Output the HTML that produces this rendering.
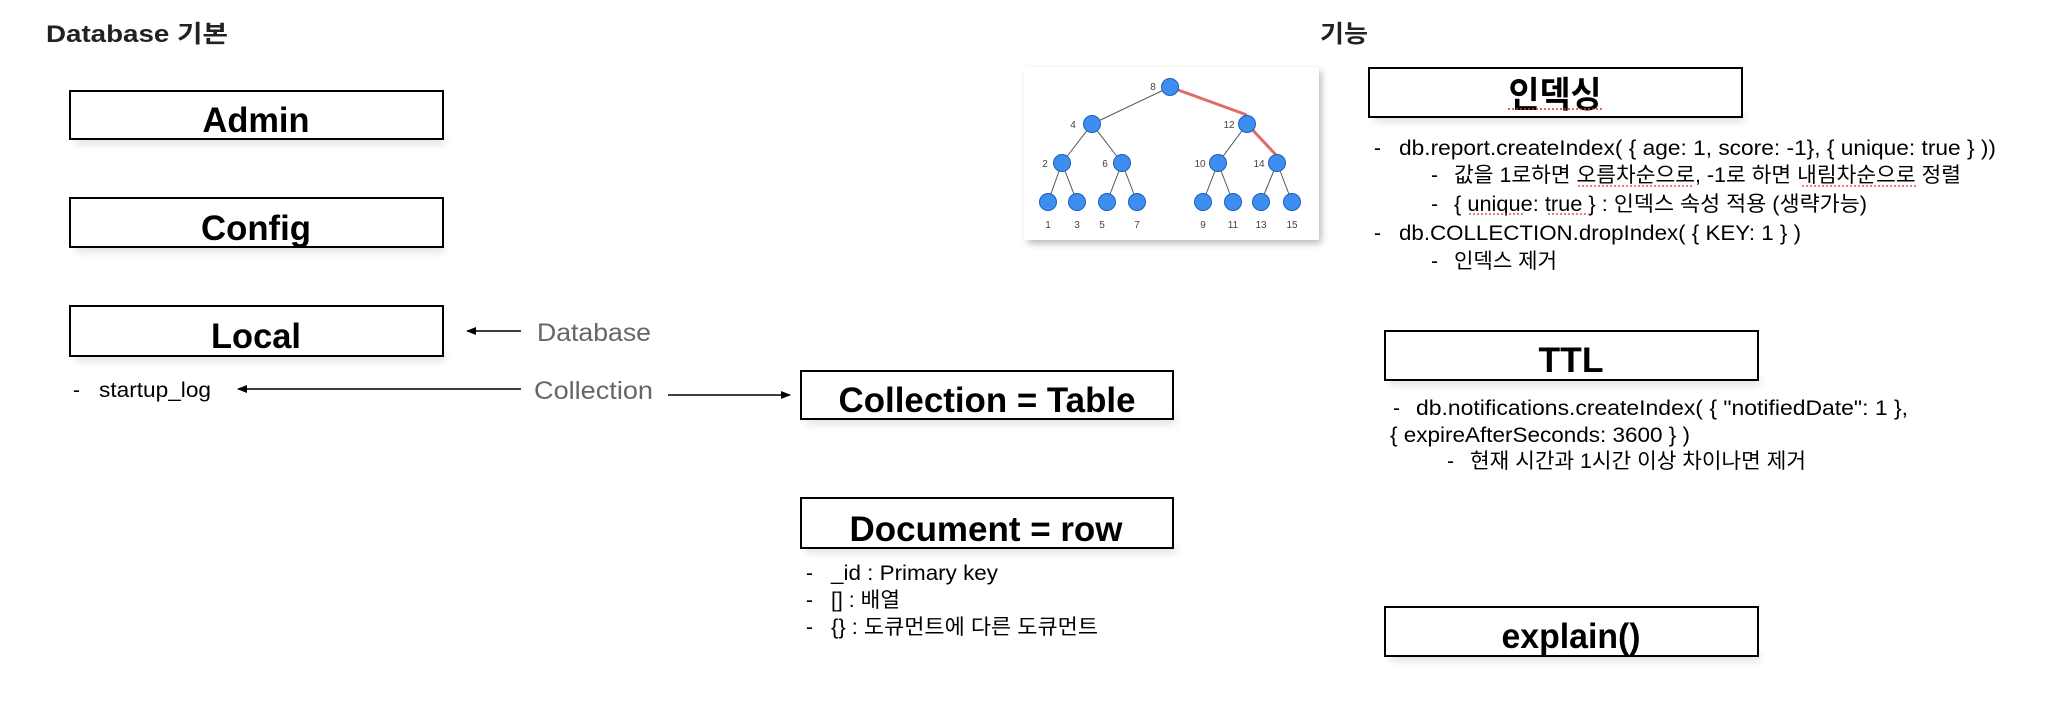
<!DOCTYPE html>
<html><head><meta charset="utf-8"><style>
html,body{margin:0;padding:0;background:#fff;width:2072px;height:728px;overflow:hidden}
svg{display:block}
text{font-family:"Liberation Sans","Noto Sans CJK KR",sans-serif}
</style></head><body>
<svg width="2072" height="728" viewBox="0 0 2072 728" xmlns="http://www.w3.org/2000/svg">
<defs>
<filter id="sh" x="-10%" y="-20%" width="120%" height="160%"><feGaussianBlur stdDeviation="4"/></filter>
<marker id="ah" markerWidth="10" markerHeight="10" refX="9" refY="5" orient="auto" markerUnits="userSpaceOnUse"><path d="M0,1 L10,5 L0,9 z" fill="#000"/></marker>
</defs>
<text x="46" y="42" font-size="24" font-weight="bold" fill="#222" textLength="182" lengthAdjust="spacingAndGlyphs">Database 기본</text>
<text x="1320" y="42" font-size="24" font-weight="bold" fill="#222" textLength="48" lengthAdjust="spacingAndGlyphs">기능</text>

<g fill="#000" opacity="0.12" filter="url(#sh)">
<rect x="75" y="136" width="370" height="8"/><rect x="75" y="244" width="370" height="8"/><rect x="75" y="353" width="370" height="8"/>
<rect x="806" y="416" width="370" height="8"/><rect x="806" y="545" width="370" height="8"/>
<rect x="1374" y="114" width="370" height="8"/><rect x="1390" y="377" width="370" height="8"/><rect x="1390" y="653" width="370" height="8"/>
</g>
<g fill="#fff" stroke="#000" stroke-width="2">
<rect x="70" y="91" width="373" height="48"/>
<rect x="70" y="198" width="373" height="49"/>
<rect x="70" y="306" width="373" height="50"/>
<rect x="801" y="371" width="372" height="48"/>
<rect x="801" y="498" width="372" height="50"/>
<rect x="1369" y="68" width="373" height="49"/>
<rect x="1385" y="331" width="373" height="49"/>
<rect x="1385" y="607" width="373" height="49"/>
</g>
<g font-size="35" font-weight="bold" text-anchor="middle" fill="#000">
<text x="256" y="132" textLength="107" lengthAdjust="spacingAndGlyphs">Admin</text>
<text x="256" y="240" textLength="110" lengthAdjust="spacingAndGlyphs">Config</text>
<text x="256" y="348" textLength="90" lengthAdjust="spacingAndGlyphs">Local</text>
<text x="987" y="412" textLength="297" lengthAdjust="spacingAndGlyphs">Collection = Table</text>
<text x="986" y="541" textLength="273" lengthAdjust="spacingAndGlyphs">Document = row</text>
<text x="1571" y="372" textLength="65" lengthAdjust="spacingAndGlyphs">TTL</text>
<text x="1571" y="648" textLength="139" lengthAdjust="spacingAndGlyphs">explain()</text>
</g>
<text x="1555" y="107" font-size="36" font-weight="bold" text-anchor="middle" textLength="93" lengthAdjust="spacingAndGlyphs">인덱싱</text>
<line x1="1508" y1="109" x2="1602" y2="109" stroke="#d33" stroke-width="1.5" stroke-dasharray="2,2"/>

<g stroke="#000" stroke-width="1.5">
<line x1="521" y1="331" x2="467" y2="331" marker-end="url(#ah)"/>
<line x1="521" y1="389" x2="238" y2="389" marker-end="url(#ah)"/>
<line x1="668" y1="395" x2="790" y2="395" marker-end="url(#ah)"/>
</g>
<text x="537" y="341" font-size="25" fill="#666" textLength="114" lengthAdjust="spacingAndGlyphs">Database</text>
<text x="534" y="399" font-size="25" fill="#666" textLength="119" lengthAdjust="spacingAndGlyphs">Collection</text>
<g font-size="21" fill="#000">
<text x="73" y="397">-</text><text x="99" y="397" textLength="112" lengthAdjust="spacingAndGlyphs">startup_log</text>
<text x="806" y="580">-</text><text x="831" y="580" textLength="167" lengthAdjust="spacingAndGlyphs">_id : Primary key</text>
<text x="806" y="607">-</text><text x="831" y="607" textLength="69" lengthAdjust="spacingAndGlyphs">[] : 배열</text>
<text x="806" y="634">-</text><text x="831" y="634" textLength="267" lengthAdjust="spacingAndGlyphs">{} : 도큐먼트에 다른 도큐먼트</text>

<text x="1374" y="155">-</text><text x="1399" y="155" textLength="597" lengthAdjust="spacingAndGlyphs">db.report.createIndex( { age: 1, score: -1}, { unique: true } ))</text>
<text x="1431" y="182">-</text><text x="1454" y="182" textLength="507" lengthAdjust="spacingAndGlyphs">값을 1로하면 오름차순으로, -1로 하면 내림차순으로 정렬</text>
<text x="1431" y="211">-</text><text x="1454" y="211" textLength="413" lengthAdjust="spacingAndGlyphs">{ unique: true } : 인덱스 속성 적용 (생략가능)</text>
<text x="1374" y="240">-</text><text x="1399" y="240" textLength="402" lengthAdjust="spacingAndGlyphs">db.COLLECTION.dropIndex( { KEY: 1 } )</text>
<text x="1431" y="268">-</text><text x="1454" y="268" textLength="103" lengthAdjust="spacingAndGlyphs">인덱스 제거</text>

<text x="1393" y="415">-</text><text x="1416" y="415" textLength="492" lengthAdjust="spacingAndGlyphs">db.notifications.createIndex( { "notifiedDate": 1 },</text>
<text x="1390" y="442" textLength="300" lengthAdjust="spacingAndGlyphs">{ expireAfterSeconds: 3600 } )</text>
<text x="1447" y="468">-</text><text x="1470" y="468" textLength="336" lengthAdjust="spacingAndGlyphs">현재 시간과 1시간 이상 차이나면 제거</text>
</g>
<g stroke="#d33" stroke-width="1.2" stroke-dasharray="2,2">
<line x1="1578" y1="186" x2="1694" y2="186"/>
<line x1="1802" y1="186" x2="1918" y2="186"/>
<line x1="1469" y1="214" x2="1524" y2="214"/>
<line x1="1548" y1="214" x2="1589" y2="214"/>
</g>

<rect x="1028" y="71" width="293" height="172" fill="#000" opacity="0.3" filter="url(#sh)"/>
<rect x="1024" y="67" width="295" height="173" fill="#fff"/>
<g stroke="#555" stroke-width="1">
<line x1="1170" y1="87" x2="1092" y2="124"/>
<line x1="1092" y1="124" x2="1062" y2="163"/><line x1="1092" y1="124" x2="1122" y2="163"/>
<line x1="1247" y1="124" x2="1218" y2="163"/>
<line x1="1062" y1="163" x2="1048" y2="202"/><line x1="1062" y1="163" x2="1077" y2="202"/>
<line x1="1122" y1="163" x2="1107" y2="202"/><line x1="1122" y1="163" x2="1137" y2="202"/>
<line x1="1218" y1="163" x2="1203" y2="202"/><line x1="1218" y1="163" x2="1233" y2="202"/>
<line x1="1277" y1="163" x2="1261" y2="202"/><line x1="1277" y1="163" x2="1292" y2="202"/>
</g>
<g stroke="#d9534f" stroke-width="3" opacity="0.85">
<line x1="1170" y1="87" x2="1247" y2="115"/><line x1="1247" y1="124" x2="1277" y2="156"/>
</g>
<g fill="#3d8ef0" stroke="#1a5fb8" stroke-width="1">
<circle cx="1170" cy="87" r="8.5"/><circle cx="1092" cy="124" r="8.5"/><circle cx="1247" cy="124" r="8.5"/>
<circle cx="1062" cy="163" r="8.5"/><circle cx="1122" cy="163" r="8.5"/><circle cx="1218" cy="163" r="8.5"/><circle cx="1277" cy="163" r="8.5"/>
<circle cx="1048" cy="202" r="8.5"/><circle cx="1077" cy="202" r="8.5"/><circle cx="1107" cy="202" r="8.5"/><circle cx="1137" cy="202" r="8.5"/>
<circle cx="1203" cy="202" r="8.5"/><circle cx="1233" cy="202" r="8.5"/><circle cx="1261" cy="202" r="8.5"/><circle cx="1292" cy="202" r="8.5"/>
</g>
<g font-size="10" fill="#444" text-anchor="middle">
<text x="1153" y="90">8</text><text x="1073" y="128">4</text><text x="1229" y="128">12</text>
<text x="1045" y="167">2</text><text x="1105" y="167">6</text><text x="1200" y="167">10</text><text x="1259" y="167">14</text>
<text x="1048" y="228">1</text><text x="1077" y="228">3</text><text x="1102" y="228">5</text><text x="1137" y="228">7</text>
<text x="1203" y="228">9</text><text x="1233" y="228">11</text><text x="1261" y="228">13</text><text x="1292" y="228">15</text>
</g>
</svg>
</body></html>
